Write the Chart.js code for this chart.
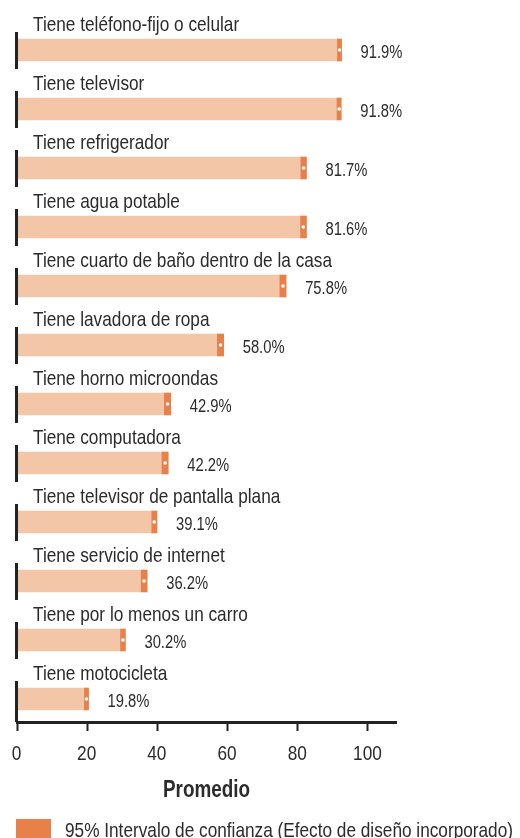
<!DOCTYPE html>
<html>
<head>
<meta charset="utf-8">
<script src="https://cdn.jsdelivr.net/npm/chart.js@4"></script>
<style>
  html, body { margin: 0; padding: 0; background: #fff; }
  #wrap { width: 520px; height: 838px; }
</style>
</head>
<body>
<div id="wrap"><canvas id="chart" width="520" height="838"></canvas></div>
<script>
// Datos
const categories = [
  'Tiene teléfono-fijo o celular',
  'Tiene televisor',
  'Tiene refrigerador',
  'Tiene agua potable',
  'Tiene cuarto de baño dentro de la casa',
  'Tiene lavadora de ropa',
  'Tiene horno microondas',
  'Tiene computadora',
  'Tiene televisor de pantalla plana',
  'Tiene servicio de internet',
  'Tiene por lo menos un carro',
  'Tiene motocicleta'
];
const means = [91.9, 91.8, 81.7, 81.6, 75.8, 58.0, 42.9, 42.2, 39.1, 36.2, 30.2, 19.8];
const lower = [91.3, 91.2, 80.9, 80.8, 74.9, 57.1, 42.0, 41.3, 38.4, 35.4, 29.5, 19.2];
const upper = [92.5, 92.4, 82.5, 82.5, 76.7, 58.9, 43.8, 43.1, 39.9, 37.1, 30.9, 20.4];
const xTicks = [0, 20, 40, 60, 80, 100];
const axisTitle = 'Promedio';
const legendText = '95% Intervalo de confianza (Efecto de diseño incorporado)';

const FONT = "'Liberation Sans', Arial, sans-serif";
const NARROW = 0.82; // simula Arial Narrow
const LIGHT = '#f3c6a8';
const DARK = '#e8804a';
const TEXT = '#2b2b2b';

// texto estrecho (escala horizontal)
function narrowText(ctx, text, x, y, font, align) {
  ctx.save();
  ctx.font = font;
  ctx.textBaseline = 'alphabetic';
  ctx.textAlign = align || 'left';
  ctx.translate(x, y);
  ctx.scale(NARROW, 1);
  ctx.fillText(text, 0, 0);
  ctx.restore();
}

// Etiquetas, valores, ejes y leyenda
const annotate = {
  id: 'annotate',
  afterDraw(chart) {
    const ctx = chart.ctx;
    const xs = chart.scales.x;
    const ys = chart.scales.y;
    const left = chart.chartArea.left;
    ctx.save();
    categories.forEach((cat, i) => {
      const yc = ys.getPixelForValue(i);
      ctx.fillStyle = TEXT;
      narrowText(ctx, cat, left + 16, yc - 19, '21px ' + FONT);
      narrowText(ctx, means[i].toFixed(1) + '%', xs.getPixelForValue(upper[i]) + 19, yc + 8, '18px ' + FONT);
      // segmento del eje vertical
      ctx.fillStyle = '#222';
      const bottom = i === categories.length - 1 ? chart.chartArea.bottom : yc + 19;
      ctx.fillRect(left - 2, yc - 18, 3, bottom - (yc - 18));
    });
    // etiquetas del eje x
    ctx.fillStyle = TEXT;
    xTicks.forEach(v => {
      narrowText(ctx, String(v), xs.getPixelForValue(v) - 0.5, 760, '21px ' + FONT, 'center');
    });
    narrowText(ctx, axisTitle, (xs.left + xs.right) / 2, 797, 'bold 23px ' + FONT, 'center');
    // leyenda
    ctx.fillStyle = DARK;
    ctx.fillRect(16, 819, 35, 22);
    ctx.fillStyle = TEXT;
    narrowText(ctx, legendText, 65, 837, '21px ' + FONT);
    ctx.restore();
  }
};

const ctx = document.getElementById('chart').getContext('2d');
new Chart(ctx, {
  type: 'bar',
  data: {
    datasets: [
      {
        label: 'Promedio',
        data: categories.map((c, i) => ({ x: [0, lower[i]], y: i })),
        backgroundColor: LIGHT,
        barThickness: 22,
        grouped: false,
        order: 3
      },
      {
        label: legendText,
        data: categories.map((c, i) => ({ x: [lower[i], upper[i]], y: i })),
        backgroundColor: DARK,
        barThickness: 22,
        grouped: false,
        order: 2
      },
      {
        type: 'scatter',
        label: 'media',
        data: categories.map((c, i) => ({ x: means[i], y: i })),
        backgroundColor: '#ffffff',
        borderWidth: 0,
        pointRadius: 1.8,
        order: 1
      }
    ]
  },
  options: {
    indexAxis: 'y',
    responsive: false,
    animation: false,
    layout: { padding: { left: 17, right: 124, top: 9, bottom: 0 } },
    plugins: {
      legend: { display: false },
      tooltip: { enabled: false }
    },
    scales: {
      y: {
        type: 'linear',
        reverse: true,
        offset: false,
        min: -0.695,
        max: 11.39,
        display: false
      },
      x: {
        type: 'linear',
        min: 0,
        max: 108,
        afterFit(scale) { scale.height = 116; },
        afterBuildTicks(scale) { scale.ticks = xTicks.map(v => ({ value: v })); },
        border: { display: true, color: '#222', width: 3 },
        grid: {
          drawOnChartArea: false,
          drawTicks: true,
          tickLength: 9,
          tickColor: '#222',
          tickWidth: 2
        },
        ticks: { display: false },
        title: { display: false }
      }
    }
  },
  plugins: [annotate]
});
</script>
</body>
</html>
